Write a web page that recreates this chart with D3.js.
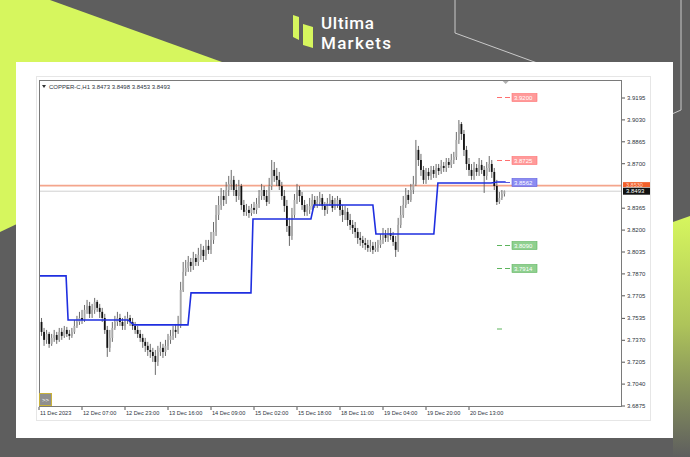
<!DOCTYPE html>
<html><head><meta charset="utf-8">
<script src="https://cdn.jsdelivr.net/npm/d3@7"></script>
<style>html,body{margin:0;padding:0;background:#5e5e5e;overflow:hidden}</style>
</head><body><svg id="c" width="690" height="457"></svg>
<script>
// ---------------- DATA ----------------
const symbolTitle = "COPPER-C,H1  3.8473 3.8498 3.8453 3.8493";
const timeLabels = ["11 Dec 2023","12 Dec 07:00","12 Dec 23:00","13 Dec 16:00","14 Dec 09:00","15 Dec 02:00","15 Dec 18:00","18 Dec 11:00","19 Dec 04:00","19 Dec 20:00","20 Dec 13:00"];
const timeLabelBars = [0,17,34,51,68,85,102,119,136,153,170];
const priceTicks = [3.9195,3.9030,3.8865,3.8700,3.8365,3.8200,3.8035,3.7870,3.7705,3.7535,3.7370,3.7205,3.7040,3.6875];
const firstOpen = 3.7538;
const closes = [3.7508,3.7433,3.7373,3.7418,3.7343,3.7388,3.7410,3.7373,3.7433,3.7403,
 3.7448,3.7418,3.7403,3.7433,3.7478,3.7508,3.7538,3.7523,3.7599,3.7629,
 3.7569,3.7599,3.7659,3.7614,3.7584,3.7538,3.7448,3.7313,3.7388,3.7463,
 3.7508,3.7538,3.7508,3.7478,3.7523,3.7538,3.7508,3.7478,3.7448,3.7418,
 3.7388,3.7358,3.7328,3.7297,3.7282,3.7252,3.7207,3.7282,3.7313,3.7282,
 3.7328,3.7373,3.7403,3.7448,3.7433,3.7478,3.7749,3.7885,3.7915,3.7960,
 3.7930,3.7990,3.7960,3.8013,3.8051,3.8005,3.8081,3.8051,3.8126,3.8186,
 3.8314,3.8389,3.8457,3.8427,3.8502,3.8548,3.8578,3.8502,3.8457,3.8532,
 3.8389,3.8337,3.8352,3.8329,3.8367,3.8352,3.8397,3.8457,3.8502,3.8457,
 3.8412,3.8532,3.8653,3.8608,3.8578,3.8532,3.8457,3.8382,3.8231,3.8156,
 3.8314,3.8427,3.8502,3.8457,3.8389,3.8337,3.8352,3.8382,3.8427,3.8389,
 3.8412,3.8442,3.8382,3.8352,3.8404,3.8427,3.8367,3.8389,3.8427,3.8352,
 3.8314,3.8337,3.8276,3.8239,3.8216,3.8186,3.8141,3.8126,3.8103,3.8088,
 3.8066,3.8081,3.8051,3.8066,3.8088,3.8126,3.8163,3.8141,3.8178,3.8156,
 3.8111,3.8051,3.8239,3.8314,3.8389,3.8465,3.8427,3.8502,3.8548,3.8804,
 3.8728,3.8653,3.8578,3.8638,3.8608,3.8653,3.8623,3.8668,3.8645,3.8683,
 3.8668,3.8713,3.8691,3.8728,3.8751,3.8879,3.8999,3.8924,3.8804,3.8698,
 3.8653,3.8608,3.8668,3.8638,3.8691,3.8653,3.8608,3.8668,3.8698,3.8638,
 3.8532,3.8412,3.8442,3.8473,3.8493];
const highs = [3.7584,3.7538,3.7463,3.7448,3.7433,3.7418,3.7448,3.7433,3.7463,3.7463,
 3.7478,3.7471,3.7448,3.7463,3.7523,3.7554,3.7584,3.7599,3.7636,3.7674,
 3.7659,3.7644,3.7689,3.7674,3.7644,3.7614,3.7569,3.7478,3.7448,3.7508,
 3.7554,3.7584,3.7569,3.7538,3.7554,3.7584,3.7561,3.7538,3.7508,3.7478,
 3.7448,3.7418,3.7388,3.7358,3.7343,3.7313,3.7297,3.7328,3.7358,3.7343,
 3.7373,3.7418,3.7448,3.7478,3.7493,3.7554,3.7810,3.7960,3.7975,3.8005,
 3.7990,3.8036,3.8020,3.8066,3.8096,3.8081,3.8126,3.8126,3.8186,3.8261,
 3.8389,3.8457,3.8517,3.8502,3.8563,3.8608,3.8653,3.8608,3.8548,3.8578,
 3.8548,3.8427,3.8397,3.8382,3.8397,3.8412,3.8442,3.8502,3.8548,3.8532,
 3.8502,3.8593,3.8728,3.8713,3.8668,3.8638,3.8563,3.8502,3.8427,3.8292,
 3.8367,3.8472,3.8548,3.8532,3.8487,3.8427,3.8397,3.8442,3.8472,3.8457,
 3.8457,3.8487,3.8472,3.8412,3.8442,3.8472,3.8457,3.8442,3.8457,3.8442,
 3.8389,3.8382,3.8367,3.8322,3.8276,3.8261,3.8216,3.8186,3.8156,3.8141,
 3.8126,3.8126,3.8111,3.8111,3.8126,3.8171,3.8216,3.8201,3.8216,3.8216,
 3.8186,3.8156,3.8292,3.8382,3.8457,3.8517,3.8502,3.8548,3.8608,3.8879,
 3.8834,3.8774,3.8683,3.8668,3.8668,3.8683,3.8683,3.8698,3.8698,3.8728,
 3.8713,3.8743,3.8743,3.8774,3.8789,3.8939,3.9029,3.9014,3.8954,3.8834,
 3.8743,3.8698,3.8713,3.8698,3.8743,3.8728,3.8683,3.8713,3.8758,3.8728,
 3.8668,3.8578,3.8487,3.8502,3.8498];
const lows = [3.7463,3.7403,3.7328,3.7343,3.7313,3.7328,3.7358,3.7343,3.7358,3.7373,
 3.7388,3.7395,3.7373,3.7388,3.7418,3.7463,3.7486,3.7493,3.7508,3.7569,
 3.7538,3.7538,3.7569,3.7584,3.7538,3.7508,3.7418,3.7245,3.7282,3.7358,
 3.7448,3.7478,3.7478,3.7448,3.7448,3.7493,3.7478,3.7448,3.7418,3.7388,
 3.7358,3.7313,3.7282,3.7252,3.7237,3.7207,3.7109,3.7177,3.7252,3.7237,
 3.7252,3.7297,3.7343,3.7373,3.7388,3.7418,3.7463,3.7734,3.7855,3.7885,
 3.7885,3.7900,3.7930,3.7930,3.7975,3.7960,3.7975,3.8020,3.8020,3.8096,
 3.8156,3.8276,3.8352,3.8382,3.8397,3.8457,3.8502,3.8457,3.8412,3.8427,
 3.8352,3.8307,3.8307,3.8292,3.8307,3.8322,3.8322,3.8367,3.8427,3.8427,
 3.8382,3.8397,3.8502,3.8563,3.8532,3.8502,3.8427,3.8337,3.8186,3.8081,
 3.8126,3.8292,3.8397,3.8412,3.8352,3.8307,3.8307,3.8322,3.8352,3.8367,
 3.8367,3.8382,3.8352,3.8307,3.8322,3.8382,3.8337,3.8352,3.8367,3.8307,
 3.8261,3.8276,3.8231,3.8201,3.8171,3.8141,3.8096,3.8081,3.8066,3.8051,
 3.8036,3.8036,3.8020,3.8036,3.8036,3.8066,3.8096,3.8111,3.8111,3.8126,
 3.8081,3.7998,3.8036,3.8216,3.8292,3.8367,3.8397,3.8412,3.8472,3.8532,
 3.8683,3.8608,3.8548,3.8548,3.8578,3.8578,3.8593,3.8593,3.8615,3.8623,
 3.8638,3.8638,3.8668,3.8668,3.8698,3.8728,3.8849,3.8879,3.8758,3.8653,
 3.8608,3.8578,3.8578,3.8608,3.8608,3.8623,3.8480,3.8578,3.8638,3.8593,
 3.8502,3.8389,3.8397,3.8427,3.8453];
// daily reference level (blue step line)
const stepBars = [0,10.7,11.5,35.2,37.5,58.9,60.1,83.8,84.6,107.5,108.7,132,133.2,156.1,157.7,178.7,181.4,184.5];
const stepVals = [3.7855,3.7855,3.7523,3.7523,3.7486,3.7486,3.7727,3.7727,3.8284,3.8284,3.8389,3.8389,3.8171,3.8171,3.8555,3.8555,3.8562,3.8562];
// key levels on right
const levelValues = [3.9200,3.8725,3.8562,3.8090,3.7914];
const levelKinds  = ["res","res","piv","sup","sup"];
const extraLevel = 3.7455;
const hLineValue = 3.8535;
const hLineLabel = "3.8530";
const bidValue = 3.8493;

// ---------------- DRAW ----------------
const svg = d3.select("#c");
const LIME = "#d6f65e", BG = "#5e5e5e";
const defs = svg.append("defs");
const g1 = defs.append("linearGradient").attr("id","rg").attr("x1",0).attr("y1",0).attr("x2",0).attr("y2",1);
g1.append("stop").attr("offset","0%").attr("stop-color",LIME);
g1.append("stop").attr("offset","45%").attr("stop-color","#aec45a");
g1.append("stop").attr("offset","100%").attr("stop-color",BG);

svg.append("rect").attr("width",690).attr("height",457).attr("fill",BG);
svg.append("polygon").attr("points","0,0 50,0 300,90 0,232").attr("fill",LIME);
svg.append("polygon").attr("points","673,222 690,216 690,457 673,457").attr("fill","url(#rg)");
svg.append("polyline").attr("points","455,0 455,33 540,64").attr("fill","none").attr("stroke","#c9c9c9").attr("stroke-width",1);
svg.append("polyline").attr("points","681,0 681,110 672,114").attr("fill","none").attr("stroke","#c9c9c9").attr("stroke-width",1);

// logo
svg.append("polygon").attr("points","293,15 299,17 299,40 293,37").attr("fill",LIME);
svg.append("polygon").attr("points","303,24 313,27 313,48 303,45").attr("fill",LIME);
svg.append("text").attr("x",321).attr("y",29).attr("fill","#fff").attr("font-family","Roboto, 'Open Sans', sans-serif")
  .attr("font-size",17).attr("font-weight",500).attr("textLength",53).text("Ultima");
svg.append("text").attr("x",321).attr("y",48.5).attr("fill","#fff").attr("font-family","Roboto, 'Open Sans', sans-serif")
  .attr("font-size",17).attr("font-weight",500).attr("textLength",70).text("Markets");

// white panel
svg.append("rect").attr("x",16).attr("y",62).attr("width",657).attr("height",376).attr("fill","#fff");
// MT4 window border
svg.append("rect").attr("x",36.5).attr("y",76.5).attr("width",614).attr("height",344).attr("fill","none").attr("stroke","#e6e6e6");

const L = 39, R = 622, T = 80, B = 407;
const x = d3.scaleLinear().domain([0,17]).range([L, L+43]);
const y = d3.scaleLinear().domain([3.6875,3.9195]).range([406,98]);

const FONT = "'Liberation Sans', Arial, sans-serif";
const TXT = "#2c3440";

// horizontal lines
const clip = defs.append("clipPath").attr("id","cp");
clip.append("rect").attr("x",L).attr("y",T).attr("width",R-L).attr("height",B-T);
const plot = svg.append("g").attr("clip-path","url(#cp)");
plot.append("line").attr("x1",L).attr("x2",R).attr("y1",y(bidValue)).attr("y2",y(bidValue)).attr("stroke","#d0d0d0").attr("stroke-width",1);
plot.append("line").attr("x1",L).attr("x2",R).attr("y1",y(hLineValue)).attr("y2",y(hLineValue)).attr("stroke","#f4a58c").attr("stroke-width",1.6);

// candles
const bars = closes.map((c,i)=>({i, o: i===0?firstOpen:closes[i-1], c, h: highs[i], l: lows[i]}));
const cg = plot.append("g");
cg.selectAll("line.w").data(bars).join("line").attr("class","w")
  .attr("x1",d=>x(d.i)).attr("x2",d=>x(d.i))
  .attr("y1",d=>y(Math.max(d.h,d.o,d.c))).attr("y2",d=>y(Math.min(d.l,d.o,d.c)))
  .attr("stroke","#5a5a5a").attr("stroke-width",0.9);
cg.selectAll("rect.b").data(bars).join("rect").attr("class","b")
  .attr("x",d=>x(d.i)-0.9).attr("width",1.8)
  .attr("y",d=>y(Math.max(d.o,d.c)))
  .attr("height",d=>Math.max(1, y(Math.min(d.o,d.c))-y(Math.max(d.o,d.c))))
  .attr("fill",d=>d.c>=d.o?"#a8a8a8":"#111");

// blue step line
plot.append("path").datum(stepBars.map((b,k)=>[b,stepVals[k]]))
  .attr("d", d3.line().x(d=>x(d[0])).y(d=>y(d[1])))
  .attr("fill","none").attr("stroke","#1f2fe0").attr("stroke-width",1.6);

// frame
svg.append("rect").attr("x",L+0.5).attr("y",T+0.5).attr("width",R-L-1).attr("height",B-T-1).attr("fill","none").attr("stroke","#7a7a7a");
// shift marker
svg.append("path").attr("d",`M${x(184.5)-3},${T+1} L${x(184.5)+3},${T+1} L${x(184.5)},${T+4} Z`).attr("fill","#b0b0b0");

// title
svg.append("path").attr("d",`M${L+3},${T+5} L${L+7},${T+5} L${L+5},${T+8} Z`).attr("fill","#333");
svg.append("text").attr("x",L+10).attr("y",T+8.5).attr("font-family",FONT).attr("font-size",6).attr("fill",TXT).text(symbolTitle);

// right axis
const ya = svg.append("g");
priceTicks.forEach(v=>{
  ya.append("line").attr("x1",R).attr("x2",R+3).attr("y1",y(v)).attr("y2",y(v)).attr("stroke","#555");
  ya.append("text").attr("x",R+5).attr("y",y(v)+2).attr("font-family",FONT).attr("font-size",6).attr("fill",TXT).text(v.toFixed(4));
});
// price labels on axis
svg.append("rect").attr("x",R+1).attr("y",y(hLineValue)-3.5).attr("width",27).attr("height",5).attr("fill","#f2602a");
svg.append("text").attr("x",R+4).attr("y",y(hLineValue)+1).attr("font-family",FONT).attr("font-size",5.5).attr("fill","#ffd6c8").text(hLineLabel);
svg.append("rect").attr("x",R+1).attr("y",y(bidValue)-3.5).attr("width",27).attr("height",7).attr("fill","#111");
svg.append("text").attr("x",R+4).attr("y",y(bidValue)+2.2).attr("font-family",FONT).attr("font-size",6).attr("fill","#fff").text(bidValue.toFixed(4));

// bottom axis
timeLabelBars.forEach((b,k)=>{
  svg.append("line").attr("x1",x(b)).attr("x2",x(b)).attr("y1",B).attr("y2",B+3).attr("stroke","#555");
  svg.append("text").attr("x",x(b)+1).attr("y",B+8).attr("font-family",FONT).attr("font-size",5.6).attr("fill",TXT).text(timeLabels[k]);
});

// >> button
svg.append("rect").attr("x",L+0.5).attr("y",393.5).attr("width",12).attr("height",12).attr("fill","#8f8f8f").attr("stroke","#c9b23a");
svg.append("text").attr("x",L+3).attr("y",401.5).attr("font-family",FONT).attr("font-size",6).attr("fill","#fff").text(">>");

// key level labels
const kindColor = {res:["#ff9a9a","#ff6f6f"], piv:["#8c8cf2","#5a5ae0"], sup:["#8fd08f","#5db45d"]};
const lx0 = 497, lx1 = 512;
levelValues.forEach((v,k)=>{
  const [fill,stroke] = kindColor[levelKinds[k]];
  const yy = Math.round(y(v))+0.5;
  svg.append("line").attr("x1",lx0).attr("x2",lx1).attr("y1",yy).attr("y2",yy).attr("stroke",stroke).attr("stroke-width",1).attr("stroke-dasharray","5,3");
  svg.append("rect").attr("x",lx1).attr("y",yy-4).attr("width",25).attr("height",8).attr("fill",fill).attr("stroke",stroke).attr("stroke-width",0.6);
  svg.append("text").attr("x",lx1+2).attr("y",yy+2.2).attr("font-family",FONT).attr("font-size",6).attr("fill","#fff").text(v.toFixed(4));
});
svg.append("line").attr("x1",lx0).attr("x2",lx0+5).attr("y1",y(extraLevel)).attr("y2",y(extraLevel)).attr("stroke","#5db45d").attr("stroke-width",1);
</script></body></html>
